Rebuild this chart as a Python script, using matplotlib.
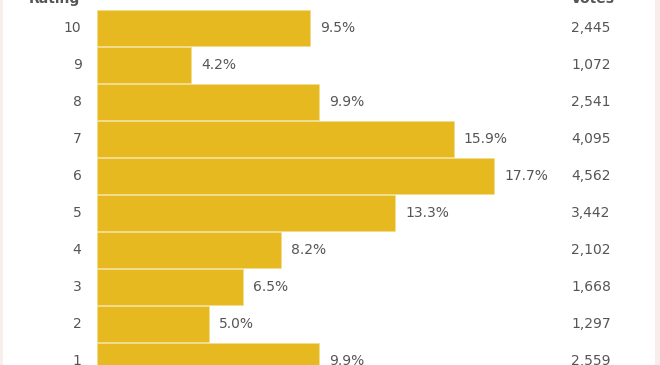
import matplotlib.pyplot as plt
from matplotlib.patches import Rectangle

plt.rcParams["font.family"] = "DejaVu Sans"

# ---- data -----------------------------------------------------------------
ratings  = ["10", "9", "8", "7", "6", "5", "4", "3", "2", "1"]
percents = [9.5, 4.2, 9.9, 15.9, 17.7, 13.3, 8.2, 6.5, 5.0, 9.9]
votes    = ["2,445", "1,072", "2,541", "4,095", "4,562",
            "3,442", "2,102", "1,668", "1,297", "2,559"]

BAR   = "#e5b91f"
INK   = "#555555"
EDGE  = "#f8efed"

W, H = 660, 365
fig = plt.figure(figsize=(W / 100, H / 100), dpi=100)
fig.patch.set_facecolor("white")

# faint pink page edges
fig.add_artist(Rectangle((0, 0), 3 / W, 1, transform=fig.transFigure,
                         fc=EDGE, ec="none"))
fig.add_artist(Rectangle((655 / W, 0), 5 / W, 1, transform=fig.transFigure,
                         fc=EDGE, ec="none"))

# axes: x in percent (22.43 px per %), rows 37 px apart, first centre at 28 px
x0, x1 = 97, 655
px_per = 22.43
pitch, first = 37.0, 28.0
ax = fig.add_axes([x0 / W, 0, (x1 - x0) / W, 1])
ax.set_xlim(0, (x1 - x0) / px_per)
ax.set_ylim((H - first) / pitch, -first / pitch)
ax.axis("off")

ypos = list(range(len(ratings)))
bars = ax.barh(ypos, percents, height=0.96, color=BAR,
               edgecolor="#f2dc8c", linewidth=0.4)

def px(xp):
    return (xp - x0) / px_per

for y, r, p, v in zip(ypos, ratings, percents, votes):
    ax.text(px(81.5), y, r, ha="right", va="center", fontsize=10,
            color=INK, clip_on=False)
    ax.annotate(f"{p:.1f}%", (p, y), xytext=(7.2, 0), textcoords="offset points",
                ha="left", va="center", fontsize=10, color=INK)
    ax.text(px(571), y, v, ha="left", va="center", fontsize=10,
            color=INK, clip_on=False)

# column headers, cut off by the top edge
hy = (-1 - first) / pitch
ax.text(px(80), hy, "Rating", ha="right", va="center", fontsize=10,
        weight="bold", color=INK, clip_on=False)
ax.text(px(571), hy, "Votes", ha="left", va="center", fontsize=10,
        weight="bold", color=INK, clip_on=False)

fig.savefig("out.png", dpi=100, facecolor="white")
